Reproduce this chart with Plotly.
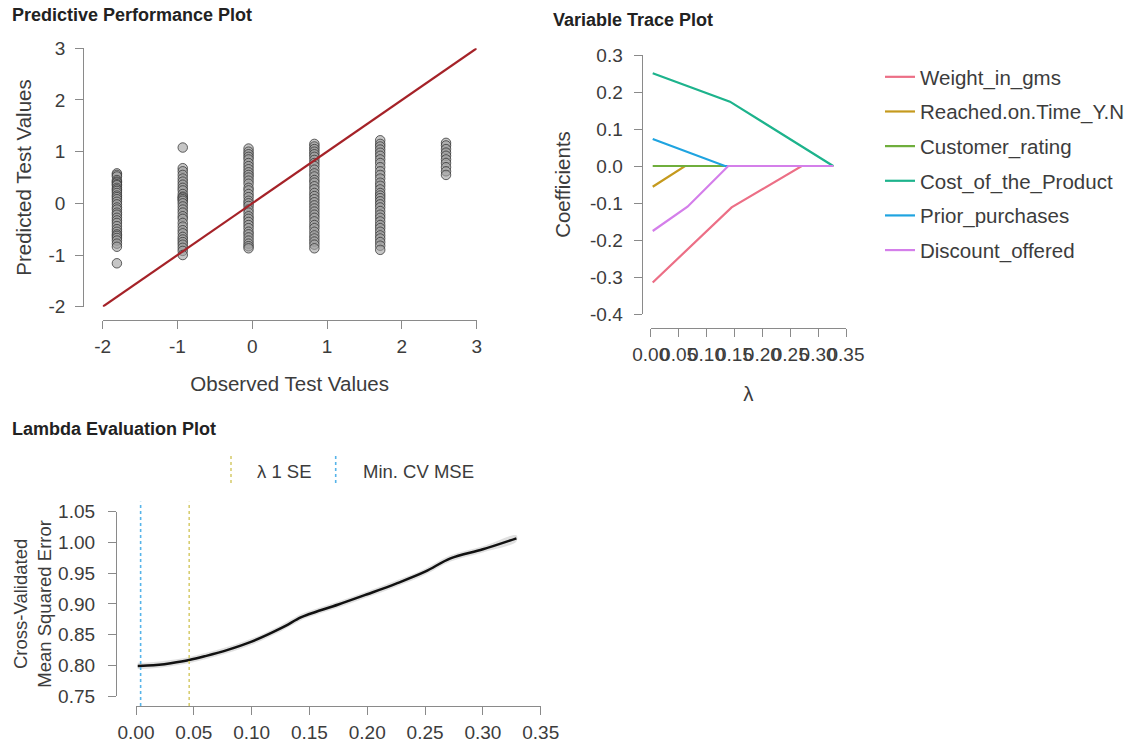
import plotly.graph_objects as go

FONT = "Liberation Sans"
PAGE_OFFSET = 8          # default body margin of the html page
W, H = 1132 - PAGE_OFFSET, 740 - PAGE_OFFSET

# ---------------- Data ----------------
# Predictive performance: observed (column positions) and predicted values
obs_levels = [-1.81, -0.93, -0.05, 0.83, 1.71, 2.59]
pred_col1 = [0.58, 0.55, 0.52, 0.45, 0.42, 0.40, 0.37, 0.35, 0.30, 0.27, 0.24, 0.20, 0.15, 0.12,
             0.08, 0.03, -0.02, -0.08, -0.12, -0.18, -0.22, -0.28, -0.33, -0.38, -0.44, -0.50,
             -0.55, -0.60, -0.63, -0.67, -0.72, -0.78, -0.84, -1.16]
pred_col2 = [1.08, 0.68, 0.62, 0.55, 0.48, 0.42, 0.36, 0.30, 0.25, 0.18, 0.13, 0.11, 0.08, 0.05,
             0.00, -0.06, -0.12, -0.18, -0.25, -0.30, -0.38, -0.45, -0.52, -0.58, -0.65, -0.70,
             -0.75, -0.80, -0.86, -0.92, -1.00]
pred_col3 = [1.06, 1.00, 0.95, 0.90, 0.85, 0.78, 0.72, 0.66, 0.60, 0.55, 0.50, 0.44, 0.38, 0.30,
             0.25, 0.18, 0.12, 0.05, 0.00, -0.05, -0.12, -0.18, -0.25, -0.30, -0.36, -0.42, -0.48,
             -0.55, -0.60, -0.66, -0.72, -0.78, -0.83, -0.87]
pred_col4 = [1.15, 1.10, 1.05, 1.00, 0.95, 0.90, 0.84, 0.78, 0.72, 0.65, 0.58, 0.52, 0.45, 0.40,
             0.33, 0.27, 0.20, 0.14, 0.08, 0.02, -0.04, -0.10, -0.16, -0.22, -0.28, -0.35, -0.42,
             -0.48, -0.55, -0.62, -0.68, -0.74, -0.80, -0.87]
pred_col5 = [1.22, 1.15, 1.10, 1.04, 0.98, 0.92, 0.85, 0.78, 0.70, 0.62, 0.55, 0.48, 0.40, 0.34,
             0.27, 0.20, 0.15, 0.10, 0.04, -0.02, -0.08, -0.15, -0.22, -0.28, -0.35, -0.42, -0.48,
             -0.55, -0.62, -0.68, -0.75, -0.82, -0.90]
pred_col6 = [1.17, 1.12, 1.05, 0.98, 0.92, 0.85, 0.78, 0.70, 0.62, 0.55]
pred_cols = [pred_col1, pred_col2, pred_col3, pred_col4, pred_col5, pred_col6]
identity_line = [-2, 3]
perf_ticks = [-2, -1, 0, 1, 2, 3]

# Variable trace: lambda and coefficient paths
trace_names = ["Weight_in_gms", "Reached.on.Time_Y.N", "Customer_rating",
               "Cost_of_the_Product", "Prior_purchases", "Discount_offered"]
trace_colors = ["#EC6F86", "#C59A1E", "#6FAE3C", "#1DB38C", "#1FA4E0", "#D47FEA"]
lam_weight = [0.0036, 0.145, 0.2706, 0.327]
coef_weight = [-0.315, -0.1117, 0.0, 0.0]
lam_reached = [0.0036, 0.0615, 0.327]
coef_reached = [-0.056, 0.0, 0.0]
lam_customer = [0.0036, 0.327]
coef_customer = [0.0, 0.0]
lam_cost = [0.0036, 0.142, 0.327]
coef_cost = [0.2505, 0.174, 0.0]
lam_prior = [0.0036, 0.133, 0.327]
coef_prior = [0.073, 0.0, 0.0]
lam_discount = [0.0036, 0.066, 0.139, 0.327]
coef_discount = [-0.1757, -0.110, 0.0, 0.0]
trace_lams = [lam_weight, lam_reached, lam_customer, lam_cost, lam_prior, lam_discount]
trace_coefs = [coef_weight, coef_reached, coef_customer, coef_cost, coef_prior, coef_discount]
trace_xticks = [0.00, 0.05, 0.10, 0.15, 0.20, 0.25, 0.30, 0.35]
trace_yticks = [-0.4, -0.3, -0.2, -0.1, 0.0, 0.1, 0.2, 0.3]

# Lambda evaluation: CV MSE curve
cv_lambda = [0.0015, 0.01, 0.02, 0.03, 0.046, 0.06, 0.08, 0.10, 0.125, 0.1425, 0.15, 0.175,
             0.20, 0.225, 0.25, 0.272, 0.30, 0.329]
cv_mse = [0.799, 0.7995, 0.801, 0.8035, 0.8086, 0.815, 0.8255, 0.8385, 0.860, 0.878, 0.8835,
          0.899, 0.9157, 0.933, 0.9524, 0.9742, 0.9889, 1.0068]
cv_lower = [0.794, 0.7945, 0.796, 0.7985, 0.8036, 0.810, 0.8205, 0.8335, 0.855, 0.873, 0.8785,
            0.894, 0.9107, 0.928, 0.9474, 0.9692, 0.9839, 1.0018]
cv_upper = [0.804, 0.8045, 0.806, 0.8085, 0.8136, 0.820, 0.8305, 0.8435, 0.865, 0.883, 0.8885,
            0.904, 0.9207, 0.938, 0.9574, 0.9792, 0.9939, 1.0118]
lambda_1se = 0.046
lambda_min = 0.004
cv_xticks = [0.00, 0.05, 0.10, 0.15, 0.20, 0.25, 0.30, 0.35]
cv_yticks = [0.75, 0.80, 0.85, 0.90, 0.95, 1.00, 1.05]

# ---------------- Figure ----------------
fig = go.Figure()

xs, ys = [], []
for lvl, col in zip(obs_levels, pred_cols):
    xs += [lvl] * len(col)
    ys += col
fig.add_trace(go.Scatter(x=xs, y=ys, mode="markers", xaxis="x", yaxis="y", showlegend=False,
                         marker=dict(size=9.5, color="rgba(160,160,160,0.6)",
                                     line=dict(color="rgba(50,50,50,0.75)", width=1))))
fig.add_trace(go.Scatter(x=identity_line, y=identity_line, mode="lines", xaxis="x", yaxis="y",
                         showlegend=False, line=dict(color="#A52228", width=2.2)))

for i, (nm, c, lx, cy) in enumerate(zip(trace_names, trace_colors, trace_lams, trace_coefs)):
    fig.add_trace(go.Scatter(x=lx, y=cy, mode="lines", name=nm, xaxis="x2", yaxis="y2",
                             legendgroup=f"g{i}", line=dict(color=c, width=2.2)))

fig.add_trace(go.Scatter(x=cv_lambda + cv_lambda[::-1], y=cv_upper + cv_lower[::-1],
                         mode="lines", fill="toself", fillcolor="rgba(0,0,0,0.12)",
                         line=dict(width=0, shape="spline"), xaxis="x3", yaxis="y3",
                         showlegend=False, hoverinfo="skip"))
fig.add_trace(go.Scatter(x=cv_lambda, y=cv_mse, mode="lines", xaxis="x3", yaxis="y3",
                         showlegend=False, line=dict(color="#111111", width=2.5, shape="spline")))

AXC = "#8a8a8a"
TICKC = "#3c3c3c"


def axis(**kw):
    d = dict(showgrid=False, zeroline=False, showline=True, linecolor=AXC, linewidth=1.3,
             ticks="outside", ticklen=8, tickcolor=AXC, tickwidth=1.3, tickangle=0,
             tickfont=dict(family=FONT, size=19, color=TICKC), anchor="free",
             automargin=False)
    d.update(kw)
    return d


def px_x(p):
    return (p - PAGE_OFFSET) / W


def px_y(p):
    return 1 - (p - PAGE_OFFSET) / H


tfont = dict(family=FONT, size=20.5, color=TICKC)

fig.update_layout(
    width=W, height=H, margin=dict(l=0, r=0, t=0, b=0, autoexpand=False),
    paper_bgcolor="white", plot_bgcolor="rgba(0,0,0,0)",
    font=dict(family=FONT, color=TICKC),
    xaxis=axis(domain=[px_x(102.7), px_x(476.7)], range=[-2, 3], position=px_y(320),
               tickvals=perf_ticks, ticktext=[str(v) for v in perf_ticks], ticklabelstandoff=1,
               title=dict(text="Observed Test Values", font=tfont, standoff=20)),
    yaxis=axis(domain=[px_y(306.7), px_y(48.3)], range=[-2, 3], position=px_x(83.3),
               tickvals=perf_ticks, ticktext=[str(v) for v in perf_ticks], ticklabelstandoff=6,
               title=dict(text="Predicted Test Values", font=tfont, standoff=10)),
    xaxis2=axis(domain=[px_x(650.7), px_x(846)], range=[0, 0.35], position=px_y(328),
                tickvals=trace_xticks, ticktext=[f"{v:.2f}" for v in trace_xticks],
                ticklabelstandoff=1, title=dict(text="λ", font=tfont, standoff=22)),
    yaxis2=axis(domain=[px_y(314), px_y(55)], range=[-0.4, 0.3], position=px_x(641.7),
                tickvals=trace_yticks, ticktext=[f"{v:.1f}" for v in trace_yticks],
                ticklabelstandoff=7, title=dict(text="Coefficients", font=tfont, standoff=12)),
    xaxis3=axis(domain=[px_x(136), px_x(540.7)], range=[0, 0.35], position=px_y(706),
                tickvals=cv_xticks, ticktext=[f"{v:.2f}" for v in cv_xticks], ticklabelstandoff=1),
    yaxis3=axis(domain=[px_y(696), px_y(511.8)], range=[0.75, 1.05], position=px_x(116),
                tickvals=cv_yticks, ticktext=[f"{v:.2f}" for v in cv_yticks], ticklabelstandoff=9,
                title=dict(text="Cross-Validated<br>Mean Squared Error",
                           font=dict(family=FONT, size=18.5, color=TICKC), standoff=0)),
    legend=dict(x=px_x(880), y=px_y(57), xanchor="left", yanchor="top",
                font=dict(family=FONT, size=20.5, color=TICKC), tracegroupgap=5,
                itemwidth=30, bgcolor="rgba(0,0,0,0)"),
)

for txt, x, y in [("Predictive Performance Plot", 10, 15), ("Variable Trace Plot", 551, 20),
                  ("Lambda Evaluation Plot", 10, 429)]:
    fig.add_annotation(text=f"<b>{txt}</b>", x=px_x(x), y=px_y(y), xref="paper", yref="paper",
                       xanchor="left", yanchor="middle", showarrow=False,
                       font=dict(family=FONT, size=18, color="#222222"))

SE_COLOR = "#D8CE72"
MIN_COLOR = "#56B4E9"
for lam, c in [(lambda_min, MIN_COLOR), (lambda_1se, SE_COLOR)]:
    fig.add_shape(type="line", xref="x3", yref="paper", x0=lam, x1=lam,
                  y0=px_y(706), y1=px_y(501.7), line=dict(color=c, width=1.6, dash="dot"))

for xk, xt, c, txt in [(231, 255, SE_COLOR, "λ 1 SE"), (335.7, 361, MIN_COLOR, "Min. CV MSE")]:
    fig.add_shape(type="line", xref="paper", yref="paper", x0=px_x(xk), x1=px_x(xk),
                  y0=px_y(483), y1=px_y(453), line=dict(color=c, width=1.6, dash="dot"))
    fig.add_annotation(text=txt, x=px_x(xt), y=px_y(471.7), xref="paper", yref="paper",
                       xanchor="left", yanchor="middle", showarrow=False,
                       font=dict(family=FONT, size=18.5, color=TICKC))

fig.write_html("out.html")
